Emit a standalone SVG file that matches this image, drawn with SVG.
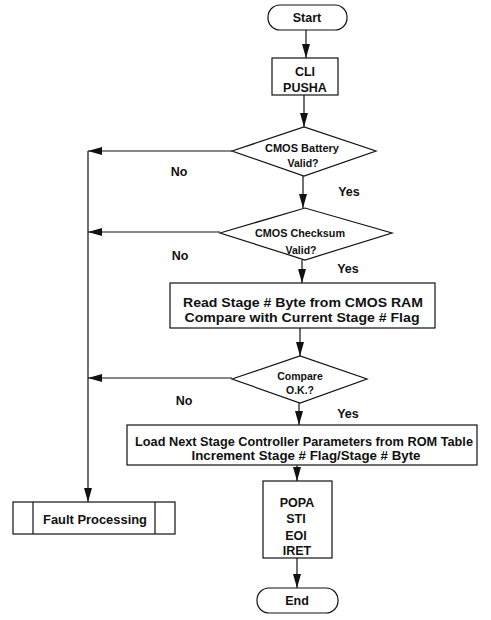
<svg xmlns="http://www.w3.org/2000/svg" width="491" height="620" viewBox="0 0 491 620">
  <style>
    .box { fill: #fff; stroke: #111; stroke-width: 1.2; }
    .ln { fill: none; stroke: #111; stroke-width: 1.2; }
    text { font-family: "Liberation Sans", Arial, sans-serif; font-weight: bold; fill: #111; text-anchor: middle; }
    .t { font-size: 12.5px; }
    .s { font-size: 10.5px; }
    .lbl { font-size: 12.5px; }
  </style>
  <defs>
    <marker id="ah" viewBox="0 0 14 8" refX="14" refY="4" markerWidth="14" markerHeight="8" markerUnits="userSpaceOnUse" orient="auto">
      <path d="M0,0 L14,4 L0,8 Z" fill="#111"/>
    </marker>
  </defs>

  <g id="connectors">
    <line class="ln" x1="306" y1="30" x2="306" y2="58" marker-end="url(#ah)"/>
    <line class="ln" x1="304" y1="95" x2="304" y2="127" marker-end="url(#ah)"/>
    <line class="ln" x1="303" y1="176" x2="303" y2="208" marker-end="url(#ah)"/>
    <line class="ln" x1="302" y1="260" x2="302" y2="283" marker-end="url(#ah)"/>
    <line class="ln" x1="300" y1="328" x2="300" y2="356" marker-end="url(#ah)"/>
    <line class="ln" x1="299" y1="403" x2="299" y2="425" marker-end="url(#ah)"/>
    <line class="ln" x1="297" y1="465" x2="297" y2="481" marker-end="url(#ah)"/>
    <line class="ln" x1="297" y1="558" x2="297" y2="588" marker-end="url(#ah)"/>
    <!-- No branches to the left, joined by one vertical run -->
    <line class="ln" x1="232" y1="151" x2="88" y2="151" marker-end="url(#ah)"/>
    <line class="ln" x1="220" y1="232" x2="88" y2="232" marker-end="url(#ah)"/>
    <line class="ln" x1="232" y1="378" x2="88" y2="378" marker-end="url(#ah)"/>
    <line class="ln" x1="88" y1="151" x2="88" y2="502" marker-end="url(#ah)"/>
    <text class="lbl" x="179" y="176">No</text>
    <text class="lbl" x="180" y="260">No</text>
    <text class="lbl" x="184" y="405">No</text>
    <text class="lbl" x="349" y="196">Yes</text>
    <text class="lbl" x="348" y="273">Yes</text>
    <text class="lbl" x="348" y="418">Yes</text>
  </g>

  <g id="start">
    <rect class="box" x="268" y="5" width="79" height="25" rx="12"/>
    <text class="t" x="307" y="22">Start</text>
  </g>

  <g id="cli">
    <rect class="box" x="272" y="58" width="66" height="37"/>
    <text class="t" x="305" y="76">CLI</text>
    <text class="t" x="305" y="92">PUSHA</text>
  </g>

  <g id="battery">
    <polygon class="box" points="232,151 304,127 376,151 304,176"/>
    <text class="s" x="302" y="152" textLength="74" lengthAdjust="spacingAndGlyphs">CMOS Battery</text>
    <text class="s" x="303" y="167">Valid?</text>
  </g>

  <g id="checksum">
    <polygon class="box" points="220,233 305,208 392,233 305,260"/>
    <text class="s" x="300" y="237" textLength="90" lengthAdjust="spacingAndGlyphs">CMOS Checksum</text>
    <text class="s" x="301" y="254">Valid?</text>
  </g>

  <g id="readstage">
    <rect class="box" x="170" y="283" width="265" height="45"/>
    <text class="t" x="303" y="307" textLength="240" lengthAdjust="spacingAndGlyphs">Read Stage # Byte from CMOS RAM</text>
    <text class="t" x="302" y="322" textLength="235" lengthAdjust="spacingAndGlyphs">Compare with Current Stage # Flag</text>
  </g>

  <g id="compare">
    <polygon class="box" points="232,379 300,356 367,379 300,403"/>
    <text class="s" x="300" y="380">Compare</text>
    <text class="s" x="300" y="394">O.K.?</text>
  </g>

  <g id="loadnext">
    <rect class="box" x="127" y="425" width="350" height="40"/>
    <text class="t" x="304" y="446" textLength="338" lengthAdjust="spacingAndGlyphs">Load Next Stage Controller Parameters from ROM Table</text>
    <text class="t" x="306" y="460" textLength="229" lengthAdjust="spacingAndGlyphs">Increment Stage # Flag/Stage # Byte</text>
  </g>

  <g id="popa">
    <rect class="box" x="263" y="481" width="69" height="77"/>
    <text class="t" x="297" y="507">POPA</text>
    <text class="t" x="296" y="523">STI</text>
    <text class="t" x="296" y="540">EOI</text>
    <text class="t" x="297" y="555">IRET</text>
  </g>

  <g id="end">
    <rect class="box" x="257" y="588" width="81" height="25" rx="12"/>
    <text class="t" x="297" y="605">End</text>
  </g>

  <g id="fault">
    <rect class="box" x="13" y="502" width="162" height="32"/>
    <line class="ln" x1="33" y1="502" x2="33" y2="534"/>
    <line class="ln" x1="155" y1="502" x2="155" y2="534"/>
    <text class="t" x="95" y="524" textLength="104" lengthAdjust="spacingAndGlyphs">Fault Processing</text>
  </g>
</svg>
